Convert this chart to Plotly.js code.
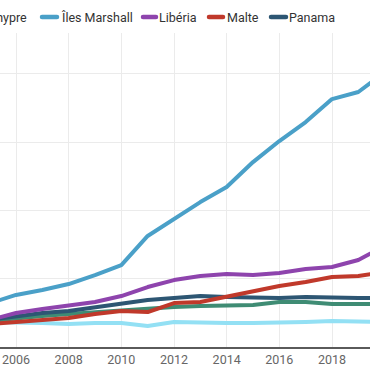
<!DOCTYPE html>
<html>
<head>
<meta charset="utf-8">
<script src="https://cdn.plot.ly/plotly-3.0.1.min.js"></script>
<style>
html, body { margin: 0; padding: 0; background: #fff; overflow: hidden; }
#chart { width: 370px; height: 370px; }
</style>
</head>
<body>
<div id="chart"></div>
<script>
// ---- data ----
const years = [2005, 2006, 2007, 2008, 2009, 2010, 2011, 2012, 2013, 2014, 2015, 2016, 2017, 2018, 2019, 2020];

const seriesNames = ["Bahamas", "Chypre", "Îles Marshall", "Libéria", "Malte", "Panama"];

const bahamas = [19.0, 21.2, 22.7, 24.2, 25.6, 27.1, 28.6, 29.3, 30.0, 30.0, 30.7, 32.9, 32.9, 31.5, 31.5, 31.5];
const chypre = [18.3, 18.3, 17.6, 16.8, 17.6, 17.6, 15.4, 18.3, 17.6, 17.6, 17.6, 17.6, 18.3, 19.0, 18.3, 18.3];
const ilesMarshall = [32.0, 38.1, 41.7, 46.1, 52.7, 60.0, 81.3, 93.7, 106.1, 117.1, 135.4, 150.8, 164.7, 181.5, 186.7, 201.0];
const liberia = [19.8, 24.9, 27.8, 30.7, 32.9, 37.3, 43.9, 49.0, 52.0, 53.4, 52.7, 54.2, 57.1, 58.6, 63.7, 73.9];
const malte = [16.8, 18.3, 19.8, 21.2, 24.2, 26.4, 25.6, 32.2, 32.9, 36.6, 40.3, 44.7, 47.6, 51.2, 52.0, 54.9];
const panama = [19.8, 22.7, 24.9, 26.4, 29.3, 31.5, 34.4, 35.9, 37.3, 36.6, 35.9, 35.9, 36.6, 35.9, 35.9, 35.9];

const seriesValues = [bahamas, chypre, ilesMarshall, liberia, malte, panama];

// ---- styling ----
const colors = ["#3f8c74", "#93e0f4", "#4aa0c8", "#8e44ad", "#c0392b", "#2d5673"];
const drawOrder = [1, 0, 5, 4, 3, 2];

const W = 370, H = 370;
const margin = { l: 0, r: 0, t: 33, b: 23 };
const plotW = W - margin.l - margin.r;
const plotH = H - margin.t - margin.b;

const traces = drawOrder.map(i => ({
  type: "scatter",
  mode: "lines",
  name: seriesNames[i],
  x: years,
  y: seriesValues[i],
  line: { color: colors[i], width: 4, shape: "linear" },
  hoverinfo: "skip",
  showlegend: false
}));

// custom legend (pixel positions): [swatchStart, swatchEnd, textStart or textEnd]
const legendPx = {
  "Chypre": { textRight: 29 },
  "Îles Marshall": { s0: 42, s1: 57, t: 59 },
  "Libéria": { s0: 143, s1: 156, t: 157 },
  "Malte": { s0: 209, s1: 223, t: 225 },
  "Panama": { s0: 271, s1: 286, t: 287 }
};
const legendY = 17;
const px2fx = p => p / plotW;
const py2fy = p => (H - margin.b - p) / plotH;

const shapes = [];
const annotations = [];
seriesNames.forEach((name, i) => {
  const pos = legendPx[name];
  if (!pos) return;
  if (pos.textRight !== undefined) {
    annotations.push({
      xref: "paper", yref: "paper", x: px2fx(pos.textRight), y: py2fy(legendY),
      xanchor: "right", yanchor: "middle", showarrow: false, text: name,
      font: { family: "Roboto, sans-serif", size: 12.5, color: "#333" }
    });
    return;
  }
  shapes.push({
    type: "line", xref: "paper", yref: "paper",
    x0: px2fx(pos.s0), x1: px2fx(pos.s1), y0: py2fy(legendY), y1: py2fy(legendY),
    line: { color: colors[i], width: 4.5 }
  });
  annotations.push({
    xref: "paper", yref: "paper", x: px2fx(pos.t), y: py2fy(legendY),
    xanchor: "left", yanchor: "middle", showarrow: false, text: name,
    font: { family: "Roboto, sans-serif", size: 12.5, color: "#333" }
  });
});

// x range so that 2006 sits at 16px and 2018 at 332px
const pxPerYear = (332 - 16) / 12;
const xr0 = 2006 - 16 / pxPerYear;
const xr1 = xr0 + plotW / pxPerYear;
const yTop = 229.9;

const layout = {
  width: W, height: H,
  margin: margin,
  paper_bgcolor: "#ffffff",
  plot_bgcolor: "#ffffff",
  font: { family: "Roboto, sans-serif", size: 12, color: "#666" },
  showlegend: false,
  xaxis: {
    range: [xr0, xr1],
    tick0: 2006, dtick: 2,
    showgrid: true, gridcolor: "#ebebeb", gridwidth: 1,
    showline: true, linecolor: "#5a5a5a", linewidth: 1.5,
    zeroline: false, ticks: "",
    tickfont: { family: "Roboto, sans-serif", size: 12.5, color: "#666" },
    fixedrange: true
  },
  yaxis: {
    range: [0, yTop],
    tick0: 0, dtick: 50,
    showgrid: true, gridcolor: "#ebebeb", gridwidth: 1,
    showticklabels: false, zeroline: false, showline: false, ticks: "",
    fixedrange: true
  },
  shapes: shapes,
  annotations: annotations
};

Plotly.newPlot("chart", traces, layout, { displayModeBar: false, staticPlot: true }).then(() => {
  document.querySelectorAll("#chart path").forEach(p => {
    p.style.strokeLinecap = "round";
    p.style.strokeLinejoin = "round";
  });
});
</script>
</body>
</html>
